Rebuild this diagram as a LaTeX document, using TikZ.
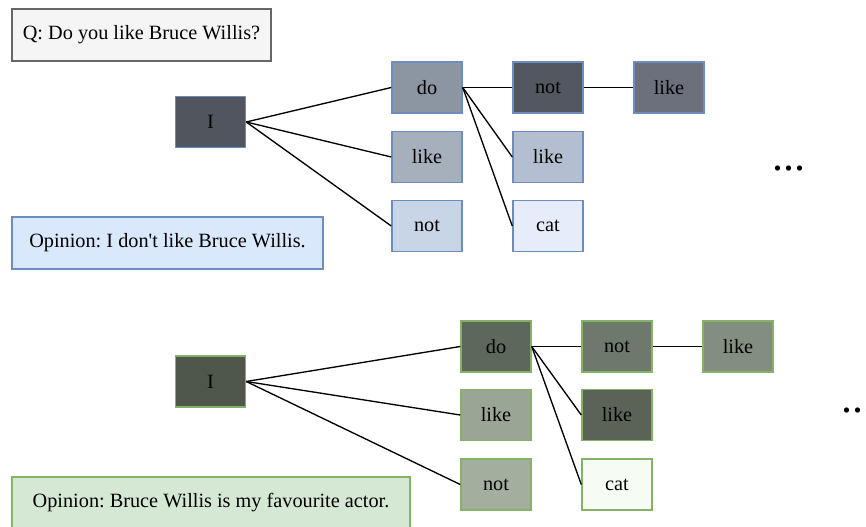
\documentclass[tikz,border=0pt]{standalone}
\usepackage{fontspec}
\setmainfont{Liberation Serif}
\frenchspacing
\definecolor{qfill}{HTML}{F5F5F5}
\definecolor{qline}{HTML}{666666}
\definecolor{bline}{HTML}{6C8EBF}
\definecolor{bop}{HTML}{DAE8FC}
\definecolor{gline}{HTML}{82B366}
\definecolor{gop}{HTML}{D5E8D4}
% token shades, upper tree
\definecolor{bI}{HTML}{51555E}
\definecolor{bDo}{HTML}{8C96A2}
\definecolor{bLikeA}{HTML}{A6B0BD}
\definecolor{bNotA}{HTML}{C8D5E6}
\definecolor{bNotB}{HTML}{525760}
\definecolor{bLikeB}{HTML}{B3BFD0}
\definecolor{bCat}{HTML}{E6ECF9}
\definecolor{bLikeC}{HTML}{6B707C}
% token shades, lower tree
\definecolor{gI}{HTML}{4F564C}
\definecolor{gDo}{HTML}{5E675B}
\definecolor{gLikeA}{HTML}{9AA595}
\definecolor{gNotA}{HTML}{A3AE9F}
\definecolor{gNotB}{HTML}{6F786C}
\definecolor{gLikeB}{HTML}{5B6358}
\definecolor{gCat}{HTML}{F6FCF4}
\definecolor{gLikeC}{HTML}{838D80}
\tikzset{
  tok/.style={draw, line width=1.1pt, minimum width=52.5pt, minimum height=38.5pt,
    inner sep=0pt, font=\fontsize{15.2}{18}\selectfont},
  btok/.style={tok, draw=bline},
  gtok/.style={tok, draw=gline},
  textbox/.style={draw, line width=1.1pt, minimum height=39pt, inner sep=0pt,
    font=\fontsize{15.2}{18}\selectfont},
  edge/.style={draw=black, line width=1pt},
  more/.style={font=\fontsize{33}{33}\selectfont, inner sep=0pt, anchor=base}
}
\begin{document}
\begin{tikzpicture}[x=0.75pt,y=-0.75pt]
\useasboundingbox (0,0) rectangle (866,527);

% question and opinions
\node[textbox, draw=qline, fill=qfill, minimum width=194.25pt] (q) at (141.5,35) {Q: Do you like Bruce Willis?};
\node[textbox, draw=bline, fill=bop, minimum width=233.25pt] (op1) at (167.5,243) {Opinion: I don\textquotesingle t like Bruce Willis.};
\node[textbox, draw=gline, fill=gop, minimum width=298.5pt] (op2) at (211,503) {Opinion: Bruce Willis is my favourite actor.};

% upper tree
\node[btok, fill=bI] (tI) at (210.5,122) {I};
\node[btok, fill=bDo] (tdo) at (427,87.5) {do};
\node[btok, fill=bLikeA] (tlike1) at (427,157) {like};
\node[btok, fill=bNotA] (tnot1) at (427,226) {not};
\node[btok, fill=bNotB] (tnot2) at (548,87.5) {not};
\node[btok, fill=bLikeB] (tlike2) at (548,157) {like};
\node[btok, fill=bCat] (tcat) at (548,226) {cat};
\node[btok, fill=bLikeC] (tlike3) at (669,87.5) {like};
\node[more] (tmore) at (789,170.5) {...};

\draw[edge] (tI.east) -- (tdo.west);
\draw[edge] (tI.east) -- (tlike1.west);
\draw[edge] (tI.east) -- (tnot1.west);
\draw[edge] (tdo.east) -- (tnot2.west);
\draw[edge] (tdo.east) -- (tlike2.west);
\draw[edge] (tdo.east) -- (tcat.west);
\draw[edge] (tnot2.east) -- (tlike3.west);

% lower tree
\node[gtok, fill=gI] (bI) at (210.5,381.5) {I};
\node[gtok, fill=gDo] (bdo) at (496,346.5) {do};
\node[gtok, fill=gLikeA] (blike1) at (496,415) {like};
\node[gtok, fill=gNotA] (bnot1) at (496,484.5) {not};
\node[gtok, fill=gNotB] (bnot2) at (617,346.5) {not};
\node[gtok, fill=gLikeB] (blike2) at (617,415) {like};
\node[gtok, fill=gCat] (bcat) at (617,484.5) {cat};
\node[gtok, fill=gLikeC] (blike3) at (738,346.5) {like};
\node[more] (bmore) at (858,412.5) {...};

\draw[edge] (bI.east) -- (bdo.west);
\draw[edge] (bI.east) -- (blike1.west);
\draw[edge] (bI.east) -- (bnot1.west);
\draw[edge] (bdo.east) -- (bnot2.west);
\draw[edge] (bdo.east) -- (blike2.west);
\draw[edge] (bdo.east) -- (bcat.west);
\draw[edge] (bnot2.east) -- (blike3.west);
\end{tikzpicture}
\end{document}
